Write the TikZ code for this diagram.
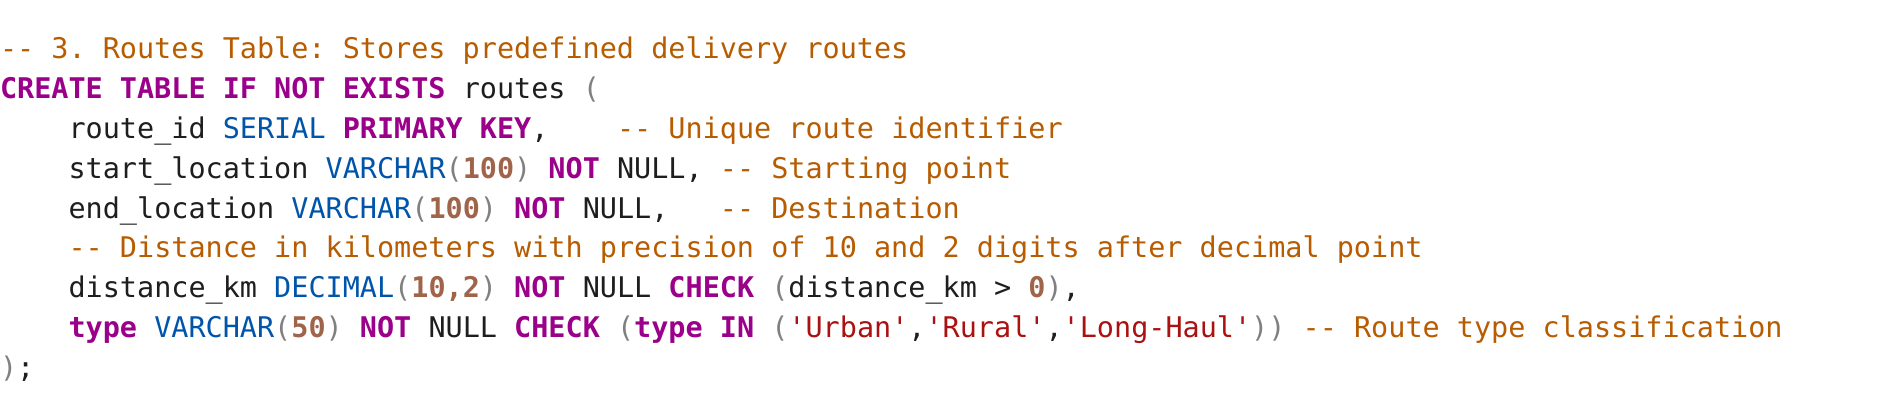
\documentclass[tikz,border=0pt]{standalone}
\usepackage{fontspec}
\setmonofont{DejaVu Sans Mono}
\definecolor{cmcol}{RGB}{183,92,0}
\definecolor{kwcol}{RGB}{154,0,137}
\definecolor{tycol}{RGB}{0,85,170}
\definecolor{nmcol}{RGB}{160,100,74}
\definecolor{stcol}{RGB}{170,17,17}
\definecolor{pcol}{RGB}{128,128,128}
\definecolor{txcol}{RGB}{30,30,30}
\newcommand\cm[1]{{\color{cmcol}#1}}
\newcommand\kw[1]{{\bfseries\color{kwcol}#1}}
\newcommand\ty[1]{{\color{tycol}#1}}
\newcommand\nm[1]{{\bfseries\color{nmcol}#1}}
\newcommand\st[1]{{\color{stcol}#1}}
\newcommand\pr[1]{{\color{pcol}#1}}
\newcommand\ind{\hphantom{0000}}
\begin{document}
\begin{tikzpicture}[x=1pt,y=1pt,
  codeline/.style={anchor=base west,inner sep=0pt,outer sep=0pt,
    font=\ttfamily\fontsize{28.47}{34}\selectfont\frenchspacing,text=txcol}]
\useasboundingbox (0,0) rectangle (1888,418);
\fill[white] (0,0) rectangle (1888,418);
\def\lh{39.85}
\node[codeline] (l1) at (0,418-58.7) {\cm{-- 3. Routes Table: Stores predefined delivery routes}};
\node[codeline] (l2) at (0,418-58.7-1*\lh) {\kw{CREATE TABLE IF NOT EXISTS} routes \pr{(}};
\node[codeline] (l3) at (0,418-58.7-2*\lh) {\ind route\_id \ty{SERIAL} \kw{PRIMARY KEY},~~~~\cm{-- Unique route identifier}};
\node[codeline] (l4) at (0,418-58.7-3*\lh) {\ind start\_location \ty{VARCHAR}\pr{(}\nm{100}\pr{)} \kw{NOT} NULL, \cm{-- Starting point}};
\node[codeline] (l5) at (0,418-58.7-4*\lh) {\ind end\_location \ty{VARCHAR}\pr{(}\nm{100}\pr{)} \kw{NOT} NULL,~~~\cm{-- Destination}};
\node[codeline] (l6) at (0,418-58.7-5*\lh) {\ind\cm{-- Distance in kilometers with precision of 10 and 2 digits after decimal point}};
\node[codeline] (l7) at (0,418-58.7-6*\lh) {\ind distance\_km \ty{DECIMAL}\pr{(}\nm{10,2}\pr{)} \kw{NOT} NULL \kw{CHECK} \pr{(}distance\_km > \nm{0}\pr{)},};
\node[codeline] (l8) at (0,418-58.7-7*\lh) {\ind\kw{type} \ty{VARCHAR}\pr{(}\nm{50}\pr{)} \kw{NOT} NULL \kw{CHECK} \pr{(}\kw{type IN} \pr{(}\st{'Urban'},\st{'Rural'},\st{'Long-Haul'}\pr{))} \cm{-- Route type classification}};
\node[codeline] (l9) at (0,418-58.7-8*\lh) {\pr{)};};
\end{tikzpicture}
\end{document}
